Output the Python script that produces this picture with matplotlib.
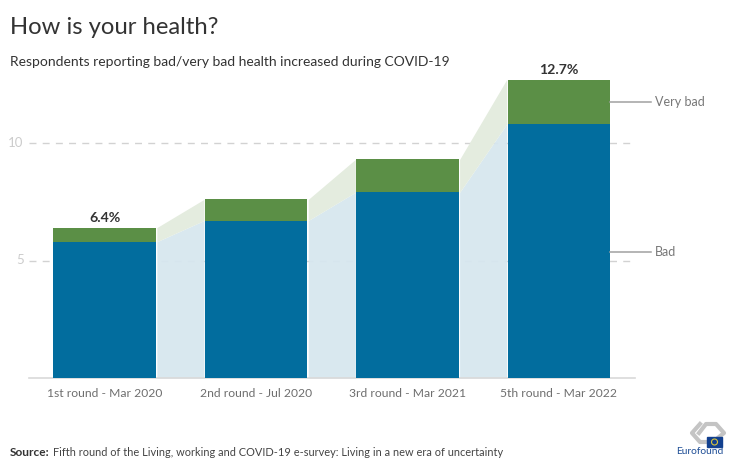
import matplotlib
matplotlib.use("Agg")
import matplotlib.pyplot as plt
from matplotlib.patches import Circle, Rectangle

rounds = ["1st round - Mar 2020", "2nd round - Jul 2020", "3rd round - Mar 2021", "5th round - Mar 2022"]
bad = [5.8, 6.7, 7.9, 10.8]
very_bad = [0.6, 0.9, 1.4, 1.9]
y_ticks = [5, 10]
top_labels = {0: "6.4%", 3: "12.7%"}

BLUE = "#026d9e"
GREEN = "#5b8f46"
LIGHT_BLUE = "#d7e7ef"
LIGHT_GREEN = "#e4ecdf"
W, H = 746, 469
BAR_W = 0.677

plt.rcParams["font.family"] = ["Lato", "DejaVu Sans"]
fig = plt.figure(figsize=(W / 100, H / 100), dpi=100)
ax = fig.add_axes([29 / W, 1 - 378 / H, 605.5 / W, 318 / H])
ax.set_xlim(-0.5, 3.5)
ax.set_ylim(0, 318 / 23.5)

x = list(range(len(rounds)))
totals = [b + v for b, v in zip(bad, very_bad)]

# gridlines, broken up by the bars
for t in y_ticks:
    ax.axhline(t, color="#d2d2d2", lw=1, dashes=(5, 4.5), zorder=1)
    ax.text(-0.535, t, str(t), ha="right", va="center", fontsize=9.5, color="#cccccc")

# shaded bands between neighbouring bars
for i in range(len(x) - 1):
    x0 = x[i] + BAR_W / 2 + 0.006
    x1 = x[i + 1] - BAR_W / 2 - 0.006
    ax.fill_between([x0, x1], [0, 0], [bad[i], bad[i + 1]], color=LIGHT_BLUE, lw=0, alpha=0.95, zorder=2)
    ax.fill_between([x0, x1], [bad[i], bad[i + 1]], [totals[i], totals[i + 1]], color=LIGHT_GREEN, lw=0, zorder=2)

ax.bar(x, bad, BAR_W, color=BLUE, zorder=3)
ax.bar(x, very_bad, BAR_W, bottom=bad, color=GREEN, zorder=3)

for i, label in top_labels.items():
    ax.text(x[i], totals[i] + 0.17, label, ha="center", va="bottom", fontsize=10.2,
            fontweight="bold", color="#333333")

for s in ["top", "left", "right"]:
    ax.spines[s].set_visible(False)
ax.spines["bottom"].set_color("#d9d9d9")
ax.spines["bottom"].set_linewidth(1.2)
ax.set_yticks([])
ax.set_xticks(x)
ax.set_xticklabels(rounds, fontsize=8.7, color="#6e6e6e")
ax.tick_params(axis="x", length=0, pad=7)

# direct labels on the last bar
right = x[-1] + BAR_W / 2
for name, y in [("Very bad", bad[-1] + very_bad[-1] / 2), ("Bad", 5.35)]:
    ax.plot([right, right + 0.27], [y, y], color="#a0a0a0", lw=1.1, clip_on=False, zorder=4)
    ax.text(right + 0.295, y, name, ha="left", va="center", fontsize=9, color="#777777", clip_on=False)

fig.text(10 / W, 1 - 28 / H, "How is your health?", fontsize=17.2, color="#333333", va="center")
fig.text(10 / W, 1 - 62 / H, "Respondents reporting bad/very bad health increased during COVID-19",
         fontsize=10, color="#333333", va="center")
fig.text(10 / W, 1 - 452 / H, "Source:", fontsize=8.6, fontweight="bold", color="#333333", va="center")
fig.text(52.5 / W, 1 - 452 / H, "Fifth round of the Living, working and COVID-19 e-survey: Living in a new era of uncertainty",
         fontsize=7.9, color="#444444", va="center")

# logo
logo = fig.add_axes([0, 0, 1, 1], facecolor="none")
logo.set_xlim(0, W)
logo.set_ylim(H, 0)
logo.axis("off")
logo.plot([700, 692, 700, 705], [424, 433, 442, 442], color="#c4c4c4", lw=3)
logo.plot([699, 706, 716, 724, 719], [433, 424, 424, 433, 437], color="#c4c4c4", lw=3)
logo.add_patch(Rectangle((707, 437), 15, 10, color="#12408f", zorder=5))
logo.add_patch(Circle((714.5, 442), 3, fill=False, ec="#d9c53a", lw=0.8, zorder=6))
logo.text(700, 451, "Eurofound", ha="center", va="center", fontsize=7.4, color="#1f4e96", zorder=7)

fig.savefig("out.png", dpi=100)
